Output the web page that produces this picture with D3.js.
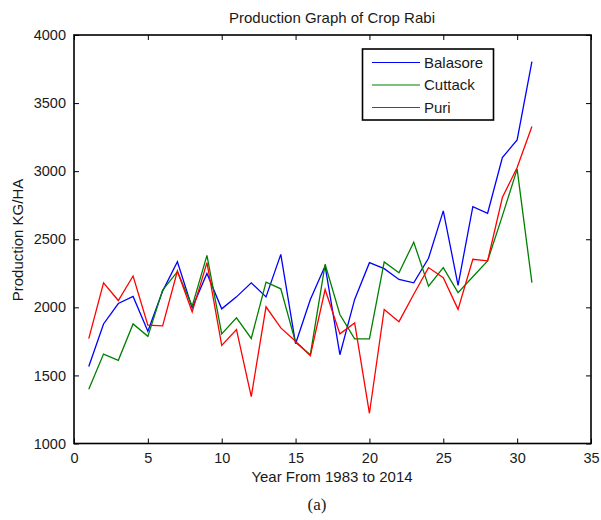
<!DOCTYPE html>
<html>
<head>
<meta charset="utf-8">
<script src="https://cdn.jsdelivr.net/npm/d3@7"></script>
<style>
    body { margin: 0; background: #fff; }
    text { font-family: "Liberation Sans", Arial, sans-serif; fill: #1a1a1a; }
</style>
</head>
<body>
<svg id="main-svg" width="601" height="520"></svg>
<script>
// years are numbered 1..31 (1983 to 2014)
let YEARS = d3.range(1, 32);

// production values, KG/HA
let BALASORE = [1566, 1878, 2028, 2080, 1824, 2119, 2335, 1996, 2249, 1989,
    2077, 2180, 2077, 2389, 1733, 2058, 2303, 1652, 2058, 2328,
    2284, 2205, 2180, 2360, 2708, 2162, 2740, 2691, 3100, 3230, 3804];
let CUTTACK = [1399, 1657, 1611, 1878, 1787, 2127, 2262, 2009, 2382, 1805,
    1923, 1772, 2185, 2136, 1743, 1652, 2316, 1947, 1768, 1768,
    2333, 2254, 2478, 2156, 2292, 2108, 2225, 2341, 2672, 3015, 2181];
let PURI = [1770, 2180, 2050, 2230, 1869, 1864, 2267, 1967, 2328, 1721,
    1837, 1345, 2004, 1849, 1751, 1645, 2131, 1805, 1886, 1222,
    1984, 1895, 2096, 2292, 2218, 1985, 2353, 2341, 2806, 3027, 3328];

let X_TICKS = [0, 5, 10, 15, 20, 25, 30, 35];
let Y_TICKS = [1000, 1500, 2000, 2500, 3000, 3500, 4000];

let SERIES = [
    { name: 'Balasore', values: BALASORE, color: '#0000ff' },
    { name: 'Cuttack', values: CUTTACK, color: '#008000' },
    { name: 'Puri', values: PURI, color: '#ff0000' }
];

let svg = d3.select('#main-svg');

// plot box in pixels
let boxLeft = 74, boxRight = 591, boxTop = 35, boxBottom = 443.5;

let x = d3.scaleLinear().domain([0, 35]).range([boxLeft, boxRight]);
let y = d3.scaleLinear().domain([1000, 4000]).range([boxBottom, boxTop]);

// matlab style: ticks pointing inward on all four sides
let tickLen = 5;
let styleAxis = g => {
    g.select('.domain').remove();
    g.selectAll('.tick line').attr('stroke', '#000').attr('stroke-width', 1);
    g.selectAll('.tick text').style('font-size', '14.5px').attr('fill', '#1a1a1a');
};

svg.append('g')
    .attr('transform', `translate(0,${boxBottom})`)
    .call(d3.axisBottom(x).tickValues(X_TICKS).tickSize(-tickLen).tickPadding(9))
    .call(styleAxis);
svg.append('g')
    .attr('transform', `translate(0,${boxTop})`)
    .call(d3.axisTop(x).tickValues(X_TICKS).tickSize(-tickLen).tickFormat(''))
    .call(styleAxis);
svg.append('g')
    .attr('transform', `translate(${boxLeft},0)`)
    .call(d3.axisLeft(y).tickValues(Y_TICKS).tickFormat(d3.format('d')).tickSize(-tickLen).tickPadding(8))
    .call(styleAxis);
svg.append('g')
    .attr('transform', `translate(${boxRight},0)`)
    .call(d3.axisRight(y).tickValues(Y_TICKS).tickSize(-tickLen).tickFormat(''))
    .call(styleAxis);

svg.append('rect')
    .attr('x', boxLeft).attr('y', boxTop)
    .attr('width', boxRight - boxLeft).attr('height', boxBottom - boxTop)
    .attr('fill', 'none').attr('stroke', '#000').attr('stroke-width', 1.6);

// the three lines
let line = d3.line()
    .x((d, i) => x(YEARS[i]))
    .y(d => y(d));

svg.selectAll('path.series').data(SERIES).enter().append('path')
    .attr('class', 'series')
    .attr('d', s => line(s.values))
    .attr('fill', 'none')
    .attr('stroke', s => s.color)
    .attr('stroke-width', 1.3);

// legend
let legend = svg.append('g');
legend.append('rect')
    .attr('x', 362.5).attr('y', 49)
    .attr('width', 131).attr('height', 71)
    .attr('fill', '#fff').attr('stroke', '#000').attr('stroke-width', 1.6);
let rows = legend.selectAll('g.row').data(SERIES).enter().append('g')
    .attr('class', 'row')
    .attr('transform', (s, i) => `translate(0,${62.5 + i * 22.5})`);
rows.append('line')
    .attr('x1', 372).attr('x2', 420)
    .attr('stroke', s => s.color).attr('stroke-width', 1.2);
rows.append('text')
    .attr('x', 424).attr('dy', '0.35em')
    .style('font-size', '15px')
    .text(s => s.name);

// titles
svg.append('text')
    .attr('x', 332).attr('y', 18).attr('dy', '0.35em')
    .attr('text-anchor', 'middle').style('font-size', '15px')
    .text('Production Graph of Crop Rabi');
svg.append('text')
    .attr('x', 332).attr('y', 477).attr('dy', '0.35em')
    .attr('text-anchor', 'middle').style('font-size', '15px')
    .text('Year From 1983 to 2014');
svg.append('text')
    .attr('transform', 'translate(18,240) rotate(-90)')
    .attr('dy', '0.35em')
    .attr('text-anchor', 'middle').style('font-size', '15px')
    .text('Production KG/HA');
svg.append('text')
    .attr('x', 317).attr('y', 504).attr('dy', '0.35em')
    .attr('text-anchor', 'middle')
    .style('font-size', '17px').style('font-family', '"Liberation Serif", "Times New Roman", serif')
    .text('(a)');
</script>
</body>
</html>
